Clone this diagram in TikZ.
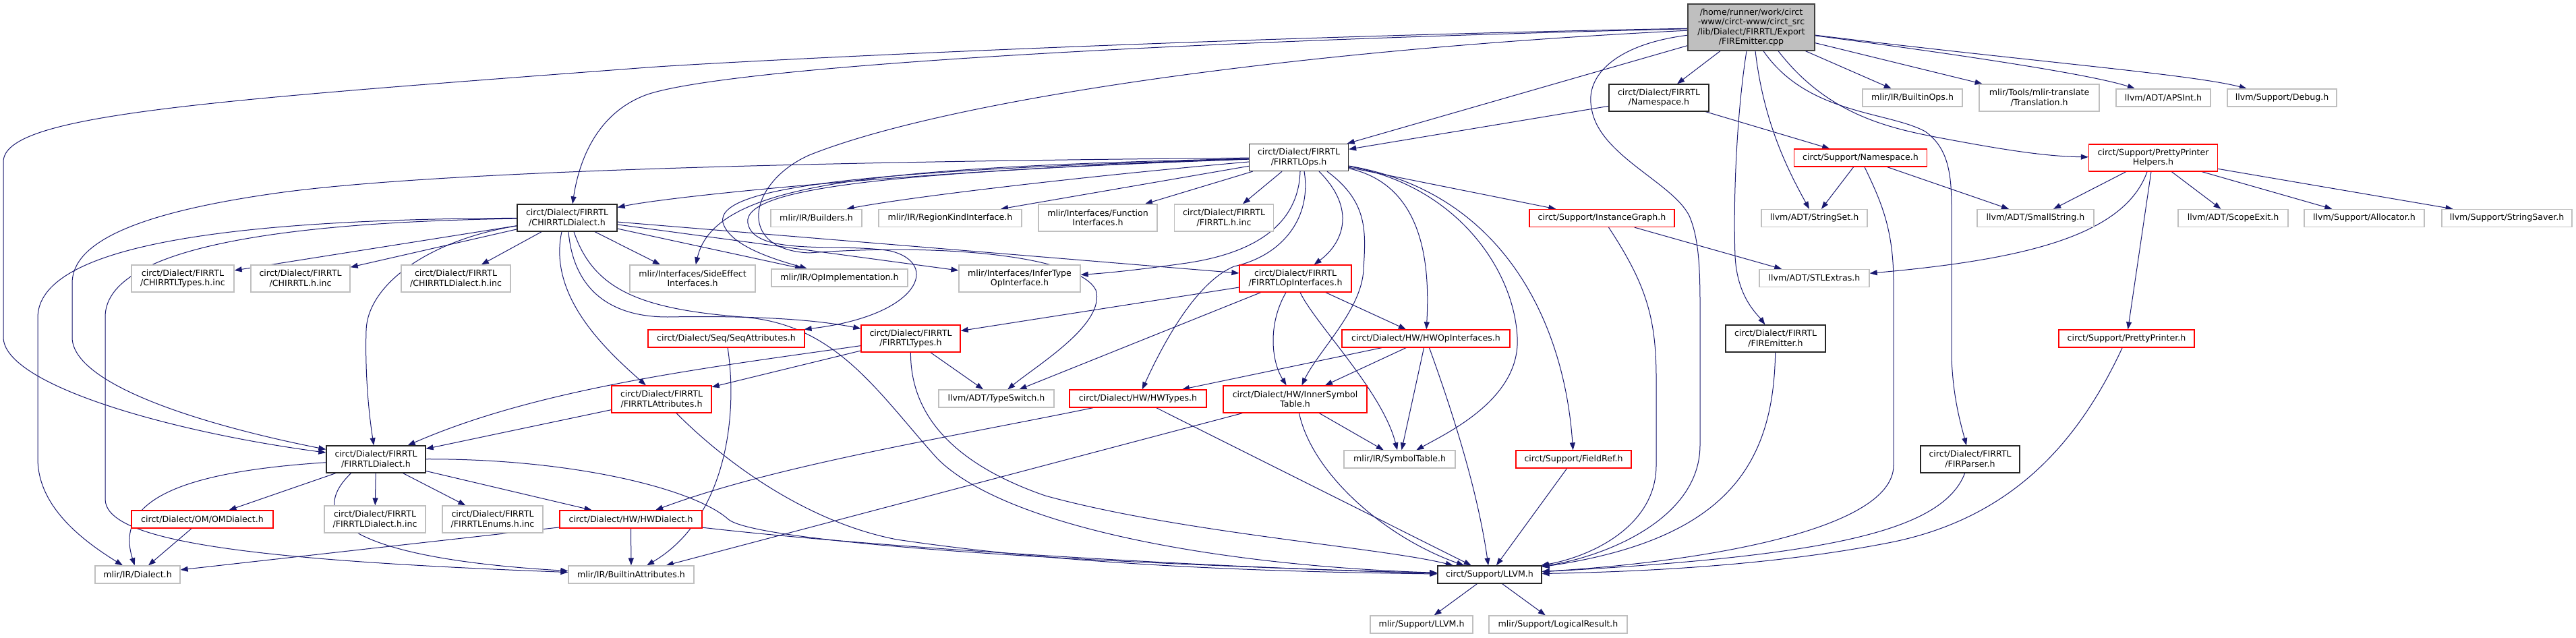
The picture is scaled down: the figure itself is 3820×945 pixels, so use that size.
\documentclass[tikz,border=0pt]{standalone}
\usepackage{fontspec}
\setmainfont{DejaVu Sans}
\usetikzlibrary{arrows.meta}
\definecolor{edgecol}{HTML}{191970}
\definecolor{rootfill}{HTML}{BFBFBF}
\definecolor{lgray}{HTML}{BFBFBF}
\definecolor{dgray}{HTML}{404040}
\newcommand{\dxfont}{\fontsize{12.6}{14.5}\selectfont}
\pgfdeclarelayer{bg}
\pgfdeclarelayer{paper}
\pgfsetlayers{paper,bg,main}
\begin{document}
\begin{tikzpicture}[x=1pt,y=-1pt,
 dbox/.style={line width=1.3pt, fill=white, inner sep=0pt, align=center, font=\dxfont, text=black},
 nb/.style={dbox, draw=black!85},
 nr/.style={dbox, draw=red},
 ng/.style={dbox, draw=lgray},
 e/.style={draw=edgecol, line width=1pt, -{Triangle[length=11pt,width=8pt]}},
]
\begin{pgfonlayer}{paper}
\fill[white] (0,0) rectangle (3820,945);
\end{pgfonlayer}
\useasboundingbox (0,0) rectangle (3820,945);

% ---------- nodes ----------
\node[dbox, draw=dgray, fill=rootfill, minimum width=188pt, minimum height=69pt] (root) at (2597,40.5) {/home/runner/work/circt\\-www/circt-www/circt\_src\\/lib/Dialect/FIRRTL/Export\\/FIREmitter.cpp};

\node[nb, minimum width=148pt, minimum height=40pt] (ns) at (2460,145) {circt/Dialect/FIRRTL\\/Namespace.h};
\node[ng, minimum width=148pt, minimum height=26pt] (bops) at (2836,145) {mlir/IR/BuiltinOps.h};
\node[ng, minimum width=178pt, minimum height=40pt] (trans) at (3024,145) {mlir/Tools/mlir-translate\\/Translation.h};
\node[ng, minimum width=140pt, minimum height=26pt] (apsint) at (3208,145) {llvm/ADT/APSInt.h};
\node[ng, minimum width=162pt, minimum height=26pt] (debug) at (3384,145) {llvm/Support/Debug.h};

\node[nb, minimum width=147pt, minimum height=40pt] (ops) at (1926,233.5) {circt/Dialect/FIRRTL\\/FIRRTLOps.h};
\node[nr, minimum width=197pt, minimum height=26pt] (sns) at (2759,234) {circt/Support/Namespace.h};
\node[nr, minimum width=191pt, minimum height=40pt] (pph) at (3193,234) {circt/Support/PrettyPrinter\\Helpers.h};

\node[nb, minimum width=148pt, minimum height=40pt] (chd) at (841,323) {circt/Dialect/FIRRTL\\/CHIRRTLDialect.h};
\node[ng, minimum width=135pt, minimum height=26pt] (build) at (1210.5,323.5) {mlir/IR/Builders.h};
\node[ng, minimum width=212pt, minimum height=26pt] (region) at (1409,323.5) {mlir/IR/RegionKindInterface.h};
\node[ng, minimum width=176pt, minimum height=40pt] (func) at (1628,323) {mlir/Interfaces/Function\\Interfaces.h};
\node[ng, minimum width=147pt, minimum height=40pt] (finc) at (1815,323) {circt/Dialect/FIRRTL\\/FIRRTL.h.inc};
\node[nr, minimum width=215pt, minimum height=26pt] (ig) at (2375.5,323.5) {circt/Support/InstanceGraph.h};
\node[ng, minimum width=157pt, minimum height=26pt] (sset) at (2690.5,323.5) {llvm/ADT/StringSet.h};
\node[ng, minimum width=173pt, minimum height=26pt] (sstr) at (3018.5,323.5) {llvm/ADT/SmallString.h};
\node[ng, minimum width=163pt, minimum height=26pt] (scope) at (3311.5,323.5) {llvm/ADT/ScopeExit.h};
\node[ng, minimum width=178pt, minimum height=26pt] (alloc) at (3506,323.5) {llvm/Support/Allocator.h};
\node[ng, minimum width=193pt, minimum height=26pt] (saver) at (3717.5,323.5) {llvm/Support/StringSaver.h};

\node[ng, minimum width=152pt, minimum height=40pt] (chty) at (271,413) {circt/Dialect/FIRRTL\\/CHIRRTLTypes.h.inc};
\node[ng, minimum width=147pt, minimum height=40pt] (chinc) at (445.5,413) {circt/Dialect/FIRRTL\\/CHIRRTL.h.inc};
\node[ng, minimum width=162pt, minimum height=40pt] (chdinc) at (676,413) {circt/Dialect/FIRRTL\\/CHIRRTLDialect.h.inc};
\node[ng, minimum width=186pt, minimum height=40pt] (side) at (1027,413) {mlir/Interfaces/SideEffect\\Interfaces.h};
\node[ng, minimum width=202pt, minimum height=26pt] (opimpl) at (1245,412) {mlir/IR/OpImplementation.h};
\node[ng, minimum width=180pt, minimum height=40pt] (infer) at (1512,413) {mlir/Interfaces/InferType\\OpInterface.h};
\node[nr, minimum width=166pt, minimum height=40pt] (opif) at (1921,413) {circt/Dialect/FIRRTL\\/FIRRTLOpInterfaces.h};
\node[ng, minimum width=163pt, minimum height=26pt] (stl) at (2690.5,412.5) {llvm/ADT/STLExtras.h};

\node[nr, minimum width=232pt, minimum height=26pt] (seq) at (1077,502) {circt/Dialect/Seq/SeqAttributes.h};
\node[nr, minimum width=147pt, minimum height=40pt] (ty) at (1350.5,502) {circt/Dialect/FIRRTL\\/FIRRTLTypes.h};
\node[nr, minimum width=249pt, minimum height=26pt] (hwopi) at (2114.5,502) {circt/Dialect/HW/HWOpInterfaces.h};
\node[nb, minimum width=148pt, minimum height=40pt] (emh) at (2633,502) {circt/Dialect/FIRRTL\\/FIREmitter.h};
\node[nr, minimum width=201pt, minimum height=26pt] (pp) at (3153.5,502) {circt/Support/PrettyPrinter.h};

\node[nr, minimum width=148pt, minimum height=40pt] (attr) at (981,592) {circt/Dialect/FIRRTL\\/FIRRTLAttributes.h};
\node[ng, minimum width=171pt, minimum height=26pt] (tsw) at (1477.5,591) {llvm/ADT/TypeSwitch.h};
\node[nr, minimum width=203pt, minimum height=26pt] (hwty) at (1687.5,591) {circt/Dialect/HW/HWTypes.h};
\node[nr, minimum width=213pt, minimum height=40pt] (ist) at (1920.5,592) {circt/Dialect/HW/InnerSymbol\\Table.h};

\node[nb, minimum width=147pt, minimum height=40pt] (fd) at (557.5,681) {circt/Dialect/FIRRTL\\/FIRRTLDialect.h};
\node[ng, minimum width=165pt, minimum height=26pt] (symt) at (2075.5,681) {mlir/IR/SymbolTable.h};
\node[nr, minimum width=171pt, minimum height=26pt] (fref) at (2333.5,681) {circt/Support/FieldRef.h};
\node[nb, minimum width=147pt, minimum height=40pt] (parser) at (2921.5,681) {circt/Dialect/FIRRTL\\/FIRParser.h};

\node[nr, minimum width=210pt, minimum height=26pt] (om) at (300,770) {circt/Dialect/OM/OMDialect.h};
\node[ng, minimum width=150pt, minimum height=40pt] (fdinc) at (556,770) {circt/Dialect/FIRRTL\\/FIRRTLDialect.h.inc};
\node[ng, minimum width=149pt, minimum height=40pt] (enums) at (730.5,770) {circt/Dialect/FIRRTL\\/FIRRTLEnums.h.inc};
\node[nr, minimum width=211pt, minimum height=26pt] (hwd) at (935.5,770) {circt/Dialect/HW/HWDialect.h};

\node[ng, minimum width=126pt, minimum height=26pt] (dial) at (204,852) {mlir/IR/Dialect.h};
\node[ng, minimum width=186pt, minimum height=26pt] (battr) at (936,852) {mlir/IR/BuiltinAttributes.h};
\node[nb, minimum width=154pt, minimum height=26pt] (llvm) at (2209,852) {circt/Support/LLVM.h};

\node[ng, minimum width=152pt, minimum height=26pt] (mllvm) at (2108,926) {mlir/Support/LLVM.h};
\node[ng, minimum width=205pt, minimum height=26pt] (lres) at (2310.5,926) {mlir/Support/LogicalResult.h};

% ---------- edges ----------
\begin{pgfonlayer}{bg}
% FIREmitter.cpp
\draw[e] (root) .. controls (1800,55) and (1100,90) .. (960,100) .. controls (300,150) and (5,170) .. (5,240) -- (5,500) .. controls (5,570) and (250,640) .. (fd);
\draw[e] (root) .. controls (1700,62) and (1080,100) .. (960,140) .. controls (890,165) and (860,230) .. ([xshift=8pt]chd.north);
\draw[e] (root) .. controls (1900,75) and (1400,150) .. (1200,230) .. controls (1110,270) and (1090,370) .. (1200,375) .. controls (1400,360) and (1600,380) .. (1625,430) .. controls (1640,480) and (1540,540) .. (tsw);
\draw[e] (root) -- (ops);
\draw[e] (root) -- (ns);
\draw[e] (root) .. controls (2400,65) and (2350,110) .. (2360,160) .. controls (2370,230) and (2480,270) .. (2505,320) .. controls (2518,350) and (2521,390) .. (2521,450) -- (2521,660) .. controls (2521,770) and (2380,825) .. (llvm);
\draw[e] ([xshift=6pt]root.south) .. controls (2615,180) and (2650,250) .. (sset);
\draw[e] ([xshift=-7pt]root.south) .. controls (2575,170) and (2570,300) .. (2573,380) .. controls (2576,440) and (2605,465) .. (emh);
\draw[e] ([xshift=18pt]root.south) .. controls (2680,170) and (2800,165) .. (2855,195) .. controls (2890,220) and (2894,260) .. (2894,310) -- (2894,530) .. controls (2896,590) and (2908,630) .. (parser);
\draw[e] ([xshift=40pt]root.south) .. controls (2710,170) and (2800,190) .. (2880,205) .. controls (2960,220) and (3030,232) .. (pph);
\draw[e] (root) -- (bops);
\draw[e] (root) -- (trans);
\draw[e] (root) .. controls (2900,80) and (3100,110) .. (apsint);
\draw[e] (root) .. controls (3000,90) and (3250,110) .. (debug);
% FIRRTL/Namespace.h
\draw[e] (ns) -- (ops);
\draw[e] (ns) -- (sns);
% circt/Support/Namespace.h
\draw[e] (sns) -- (sset);
\draw[e] (sns) -- (sstr);
\draw[e] ([xshift=6pt]sns.south) .. controls (2790,300) and (2808,340) .. (2808,420) -- (2808,690) .. controls (2808,790) and (2500,835) .. (llvm);
% PrettyPrinterHelpers.h
\draw[e] (pph) -- (sstr);
\draw[e] ([xshift=-9pt]pph.south) .. controls (3150,350) and (3000,385) .. (stl);
\draw[e] (pph) -- (pp);
\draw[e] (pph) -- (scope);
\draw[e] (pph) -- (alloc);
\draw[e] (pph) -- (saver);
\draw[e] (pp) .. controls (3080,660) and (2980,770) .. (2800,805) .. controls (2620,840) and (2420,848) .. (llvm);
\draw[e] (parser) .. controls (2880,790) and (2700,825) .. (llvm);
\draw[e] (emh) .. controls (2630,690) and (2560,800) .. (llvm);
% InstanceGraph.h
\draw[e] (ig) -- (stl);
\draw[e] ([xshift=10pt]ig.south) .. controls (2440,420) and (2456,470) .. (2456,560) -- (2456,690) .. controls (2456,780) and (2360,825) .. (llvm);
\draw[e] (fref) -- (llvm);
\draw[e] (llvm) -- (mllvm);
\draw[e] (llvm) -- (lres);
% FIRRTLOps.h
\draw[e] (ops) .. controls (1400,250) and (1000,290) .. (chd);
\draw[e] (ops) .. controls (1400,238) and (700,248) .. (420,285) .. controls (200,315) and (107,360) .. (107,420) -- (107,500) .. controls (107,570) and (300,630) .. (fd);
\draw[e] (ops) .. controls (1300,248) and (1060,270) .. (side);
\draw[e] (ops) .. controls (1300,252) and (1060,275) .. (1072,330) .. controls (1082,365) and (1150,385) .. (opimpl);
\draw[e] (ops) .. controls (1300,256) and (1090,280) .. (1110,335) .. controls (1125,380) and (1250,360) .. (1320,372) .. controls (1395,390) and (1365,468) .. (seq);
\draw[e] (ops) .. controls (1600,262) and (1350,292) .. ([xshift=45pt]build.north);
\draw[e] (ops) -- ([xshift=75pt]region.north);
\draw[e] (ops) -- ([xshift=70pt]func.north);
\draw[e] (ops) -- ([xshift=28pt]finc.north);
\draw[e] ([xshift=2pt]ops.south) .. controls (1926,320) and (1880,372) .. (1760,390) .. controls (1690,400) and (1640,405) .. (infer);
\draw[e] ([xshift=8pt]ops.south) .. controls (1945,320) and (1905,378) .. (1830,395) .. controls (1770,420) and (1720,520) .. (hwty);
\draw[e] ([xshift=30pt]ops.south) .. controls (2012,310) and (1992,360) .. (opif);
\draw[e] ([xshift=42pt]ops.south) .. controls (2030,300) and (2025,345) .. (2022,400) .. controls (2019,460) and (1955,520) .. (ist);
\draw[e] (ops) .. controls (2115,275) and (2120,400) .. (hwopi);
\draw[e] (ops) .. controls (2160,275) and (2245,400) .. (2250,500) .. controls (2255,590) and (2150,640) .. (symt);
\draw[e] (ops) .. controls (2230,285) and (2320,480) .. (fref);
\draw[e] (ops) -- (ig);
% CHIRRTLDialect.h
\draw[e] (chd) .. controls (420,325) and (58,350) .. (56,470) -- (56,680) .. controls (56,750) and (120,800) .. (dial);
\draw[e] (chd) .. controls (380,330) and (156,375) .. (156,470) -- (156,740) .. controls (156,800) and (350,830) .. (battr);
\draw[e] (chd) -- (chty);
\draw[e] (chd) -- (chinc);
\draw[e] (chd) -- (chdinc);
\draw[e] (chd) .. controls (640,355) and (545,420) .. (543,490) .. controls (541,560) and (548,620) .. (fd);
\draw[e] ([xshift=-8pt]chd.south) .. controls (812,440) and (900,520) .. (attr);
\draw[e] ([xshift=2pt]chd.south) .. controls (850,425) and (900,470) .. (990,470) .. controls (1100,468) and (1200,472) .. (ty);
\draw[e] ([xshift=10pt]chd.south) .. controls (880,430) and (950,458) .. (1100,470) .. controls (1240,480) and (1300,580) .. (1390,680) .. controls (1490,780) and (1800,838) .. (llvm);
\draw[e] (chd) -- ([xshift=-48pt]side.north);
\draw[e] (chd) -- ([xshift=-55pt]opimpl.north);
\draw[e] (chd) -- ([yshift=12pt]infer.west);
\draw[e] (chd) -- ([yshift=8pt]opif.west);
% FIRRTLDialect.h
\draw[e] (fd) .. controls (260,700) and (170,745) .. (dial);
\draw[e] (fd) -- (om);
\draw[e] ([xshift=-37pt]fd.south) .. controls (440,780) and (560,830) .. (battr);
\draw[e] (fd) -- (fdinc);
\draw[e] (fd) -- (enums);
\draw[e] (fd) -- (hwd);
\draw[e] (fd) .. controls (850,680) and (1030,725) .. (1080,770) .. controls (1115,800) and (1500,832) .. (llvm);
% HWDialect.h, OMDialect.h
\draw[e] (hwd) -- (dial);
\draw[e] (hwd) -- (battr);
\draw[e] (hwd) .. controls (1300,812) and (1800,842) .. (llvm);
\draw[e] (om) -- (dial);
% FIRRTLAttributes.h
\draw[e] (attr) -- (fd);
\draw[e] ([xshift=22pt]attr.south) .. controls (1080,690) and (1200,775) .. (1330,800) .. controls (1600,840) and (1900,848) .. (llvm);
% FIRRTLTypes.h
\draw[e] (ty) -- (attr);
\draw[e] (ty) .. controls (1050,545) and (800,575) .. (fd);
\draw[e] (ty) -- (tsw);
\draw[e] (ty) .. controls (1350,620) and (1420,690) .. (1550,735) .. controls (1750,790) and (2050,812) .. (llvm);
% SeqAttributes.h
\draw[e] (seq) .. controls (1095,620) and (1075,770) .. (battr);
% FIRRTLOpInterfaces.h
\draw[e] (opif) -- (ty);
\draw[e] (opif) -- (tsw);
\draw[e] ([xshift=-14pt]opif.south) .. controls (1880,480) and (1885,535) .. (ist);
\draw[e] ([xshift=7pt]opif.south) .. controls (1950,480) and (2050,580) .. (symt);
\draw[e] (opif) -- (hwopi);
% HWOpInterfaces.h
\draw[e] (hwopi) -- (hwty);
\draw[e] (hwopi) -- (ist);
\draw[e] (hwopi) -- (symt);
\draw[e] ([xshift=5pt]hwopi.south) .. controls (2150,600) and (2190,720) .. (llvm);
% HWTypes.h
\draw[e] (hwty) .. controls (1400,650) and (1150,690) .. (hwd);
\draw[e] (hwty) -- (llvm);
% InnerSymbolTable.h
\draw[e] (ist) -- (battr);
\draw[e] (ist) -- (symt);
\draw[e] ([xshift=6pt]ist.south) .. controls (1945,700) and (2050,795) .. (llvm);
\end{pgfonlayer}
\end{tikzpicture}
\end{document}
